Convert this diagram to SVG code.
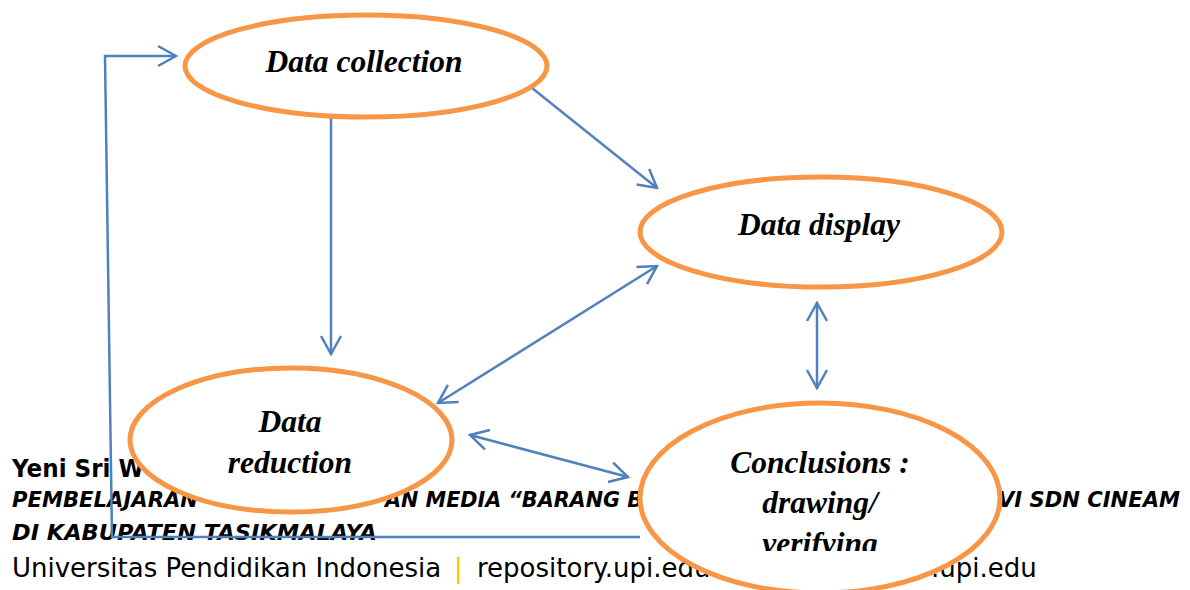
<svg xmlns="http://www.w3.org/2000/svg" width="1190" height="590" viewBox="0 0 1190 590">
<style>
.node ellipse{fill:#fff;stroke:#F79646;stroke-width:5}
.lbl{font-family:"Liberation Serif","Times New Roman",serif;font-weight:bold;font-style:italic;font-size:31.5px;fill:#000;text-anchor:middle}
.conn{fill:none;stroke:#4F81BD;stroke-width:2.5}
.ft{font-family:"DejaVu Sans",Verdana,sans-serif;fill:#000}
.fb{font-weight:bold;font-size:25.5px}
.fbi{font-weight:bold;font-style:italic;font-size:21.5px}
.fr{font-size:26px}
</style>
<defs>
<marker id="arr" viewBox="-20 -12 22 24" markerWidth="22" markerHeight="24" refX="0" refY="0" markerUnits="userSpaceOnUse" orient="auto-start-reverse">
<path d="M-18,-10 L0,0 L-18,10" fill="none" stroke="#4F81BD" stroke-width="2.5"/>
</marker>
<clipPath id="clipC"><rect x="600" y="380" width="450" height="171"/></clipPath>
</defs>
<g id="footer">
<text class="ft fb" x="12" y="477" textLength="132" lengthAdjust="spacingAndGlyphs">Yeni Sri W</text>
<text class="ft fbi" x="12" y="507" textLength="186" lengthAdjust="spacingAndGlyphs">PEMBELAJARAN</text>
<text class="ft fbi" x="385" y="507" textLength="258" lengthAdjust="spacingAndGlyphs">AN MEDIA “BARANG B</text>
<text class="ft fbi" x="998" y="507" textLength="182" lengthAdjust="spacingAndGlyphs">VI SDN CINEAM</text>
<text class="ft fbi" x="12" y="540" textLength="365" lengthAdjust="spacingAndGlyphs">DI KABUPATEN TASIKMALAYA</text>
<text class="ft fr" x="12" y="577">Universitas Pendidikan Indonesia</text>
<text class="ft fr" x="454" y="577" style="fill:#FFC000">|</text>
<text class="ft fr" x="477" y="577">repository.upi.edu</text>
<text class="ft fr" x="931" y="577">.upi.edu</text>
</g>
<g id="connectors">
<polyline class="conn" stroke-width="2" points="640,537 112,537 105,56 176,56" marker-end="url(#arr)"/>
<line class="conn" x1="331" y1="117" x2="331" y2="354" marker-end="url(#arr)"/>
<line class="conn" x1="532" y1="88" x2="657" y2="188" marker-end="url(#arr)"/>
<line class="conn" x1="657" y1="266" x2="438" y2="403" marker-start="url(#arr)" marker-end="url(#arr)"/>
<line class="conn" x1="817" y1="303" x2="817" y2="388" marker-start="url(#arr)" marker-end="url(#arr)"/>
<line class="conn" x1="470" y1="435" x2="628" y2="477" marker-start="url(#arr)" marker-end="url(#arr)"/>
</g>
<g id="data-collection" class="node">
<ellipse cx="366" cy="66" rx="181" ry="51"/>
<text class="lbl" x="364" y="72">Data collection</text>
</g>
<g id="data-display" class="node">
<ellipse cx="821" cy="232" rx="181" ry="55"/>
<text class="lbl" x="819" y="235">Data display</text>
</g>
<g id="data-reduction" class="node">
<ellipse cx="291" cy="440" rx="161" ry="72"/>
<text class="lbl" x="290" y="432">Data</text>
<text class="lbl" x="290" y="473">reduction</text>
</g>
<g id="conclusions" class="node">
<ellipse cx="820" cy="498" rx="180" ry="95"/>
<text class="lbl" x="820" y="473">Conclusions :</text>
<text class="lbl" x="820" y="513">drawing/</text>
<text class="lbl" x="820" y="554" clip-path="url(#clipC)">verifying</text>
</g>
</svg>
